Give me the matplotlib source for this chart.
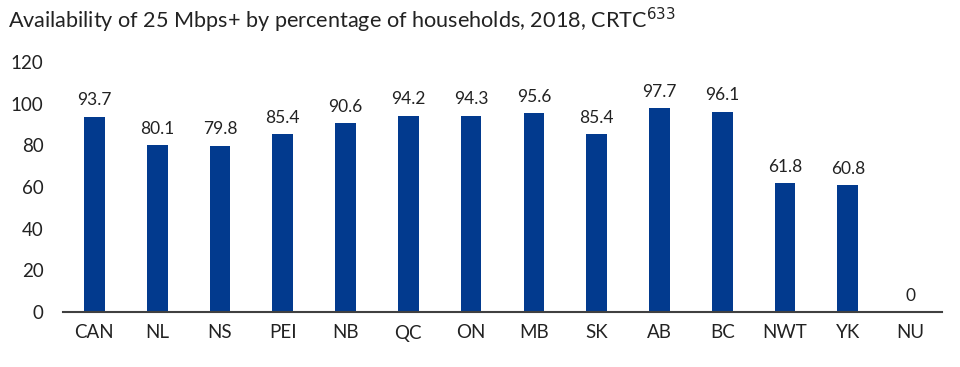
import matplotlib
matplotlib.use("Agg")
import matplotlib.pyplot as plt

categories = ["CAN", "NL", "NS", "PEI", "NB", "QC", "ON", "MB", "SK", "AB", "BC", "NWT", "YK", "NU"]
values = [93.7, 80.1, 79.8, 85.4, 90.6, 94.2, 94.3, 95.6, 85.4, 97.7, 96.1, 61.8, 60.8, 0]
yticks = [0, 20, 40, 60, 80, 100, 120]

plt.rcParams['font.family'] = ['Lato', 'DejaVu Sans']

fig = plt.figure(figsize=(9.6, 3.67), dpi=100)
ax = fig.add_axes([63/960, 1 - 312/367, (942-63)/960, 250/367])

x = range(len(categories))
bars = ax.bar(x, values, width=0.33, color="#023A8E")
for xi, v in zip(x, values):
    ax.text(xi, v + 4, f"{v:g}", ha="center", va="bottom", fontsize=12.5, color="#222222")

ax.set_xlim(-0.5, len(categories) - 0.5)
ax.set_ylim(0, 120)
ax.set_yticks(yticks)
ax.set_xticks(list(x))
ax.set_xticklabels(categories)
ax.tick_params(axis="both", length=0, labelsize=13.5, colors="#222222")
ax.tick_params(axis="x", pad=9)
ax.tick_params(axis="y", pad=14)
for s in ["top", "right", "left"]:
    ax.spines[s].set_visible(False)
ax.spines["bottom"].set_color("#404040")
ax.spines["bottom"].set_linewidth(1.5)

fig.text(8/960, 1 - 20/367, "Availability of 25 Mbps+ by percentage of households, 2018, CRTC$^{633}$",
         ha="left", va="center", fontsize=15.6, color="#222222")

fig.savefig("out.png", dpi=100)
